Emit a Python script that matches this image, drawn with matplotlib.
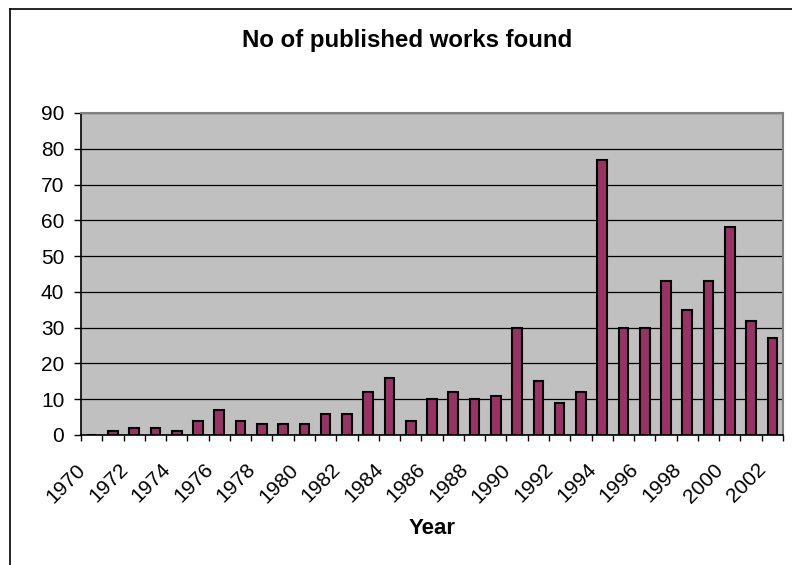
import numpy as np
import matplotlib.pyplot as plt
import matplotlib.transforms as mtransforms
from matplotlib.lines import Line2D

plt.rcParams['font.family'] = ['Liberation Sans', 'DejaVu Sans']

# publications per year
years = list(range(1970, 2003))
counts = [0, 1, 2, 2, 1, 4, 7, 4, 3, 3, 3, 6, 6, 12, 16, 4, 10, 12, 10, 11,
          30, 15, 9, 12, 77, 30, 30, 43, 35, 43, 58, 32, 27]

fig = plt.figure(figsize=(7.92, 5.65), dpi=100)
ax = fig.add_axes([81/792, 130/565, 702/792, 322/565])

x = np.arange(len(years))
ax.set_facecolor('#C0C0C0')
ax.bar(x, counts, width=0.45, color='#993366', edgecolor='black', linewidth=1.5, zorder=3)

ax.set_xlim(-0.5, len(years) - 0.5)
ax.set_ylim(0, 90)
ax.set_yticks(range(0, 91, 10))
ax.yaxis.grid(True, color='black', linewidth=0.9, zorder=1)
ax.tick_params(axis='y', labelsize=15, length=5, width=1, direction='out', pad=7)

# tick marks between categories, labels every other year
ax.set_xticks(np.arange(-0.5, len(years), 1), minor=True)
ax.set_xticks(x[::2])
ax.set_xticklabels([str(y) for y in years[::2]], rotation=45, ha='right', va='top',
                   rotation_mode='anchor', fontsize=15)
ax.tick_params(axis='x', which='major', length=0, pad=18)
ax.tick_params(axis='x', which='minor', length=4, width=1, direction='out')
shift = mtransforms.ScaledTranslation(-0.16, 0, fig.dpi_scale_trans)
for lbl in ax.get_xticklabels():
    lbl.set_transform(lbl.get_transform() + shift)

for s in ['left', 'bottom']:
    ax.spines[s].set_color('black')
    ax.spines[s].set_linewidth(1.2)
for s in ['top', 'right']:
    ax.spines[s].set_color('#808080')
    ax.spines[s].set_linewidth(1.5)

fig.text(407/792, 1 - 41/565, 'No of published works found', ha='center', va='center',
         fontsize=17.3, fontweight='bold')
fig.text(432/792, 1 - 529/565, 'Year', ha='center', va='center',
         fontsize=16, fontweight='bold')

# outer chart border (left and top edges visible)
fig.add_artist(Line2D([10/792, 10/792], [0, 1 - 9/565], color='black', linewidth=1.2))
fig.add_artist(Line2D([10/792, 1], [1 - 9/565, 1 - 9/565], color='black', linewidth=1.2))

fig.savefig('out.png', dpi=100)
